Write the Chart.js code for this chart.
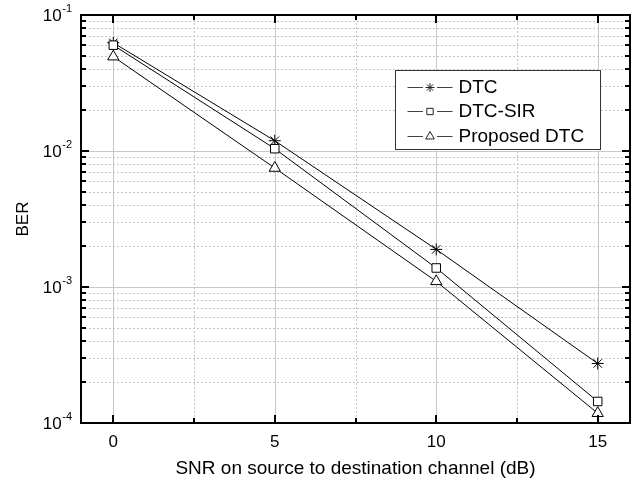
<!DOCTYPE html>
<html>
<head>
<meta charset="utf-8">
<script src="https://cdn.jsdelivr.net/npm/chart.js@4/dist/chart.umd.min.js"></script>
<style>
    html, body { margin: 0; padding: 0; background: #fff; }
    #ber-chart { display: block; }
</style>
</head>
<body>
<canvas id="ber-chart" width="639" height="481"></canvas>
<script>
const snr = [0, 5, 10, 15];
const dtc = [0.0625, 0.0119, 0.00189, 0.000274];
const dtcSir = [0.060, 0.0104, 0.00138, 0.000144];
const proposedDtc = [0.0494, 0.0075, 0.0011, 0.000118];

const seriesLabels = ['DTC', 'DTC-SIR', 'Proposed DTC'];
const xTicks = [0, 5, 10, 15];
const xMinorTicks = [2.5, 7.5, 12.5];
const yDecades = [-4, -3, -2, -1];

const FONT = 'Arial, "Liberation Sans", sans-serif';

function toPoints(values) {
    return values.map(function (v, i) { return { x: snr[i], y: v }; });
}

// grid, frame with inward ticks, superscript y labels, boxed legend
const decorPlugin = {
    id: 'decor',
    beforeDatasetsDraw: function (chart) {
        const c = chart.ctx;
        const a = chart.chartArea;
        const xs = chart.scales.x;
        const ys = chart.scales.y;
        c.save();
        c.lineWidth = 1;
        c.strokeStyle = '#c4c4c4';

        // minor grid (dotted)
        c.setLineDash([2, 2]);
        yDecades.slice(0, -1).forEach(function (e) {
            for (let k = 2; k <= 9; k++) {
                const y = Math.round(ys.getPixelForValue(k * Math.pow(10, e))) + 0.5;
                c.beginPath(); c.moveTo(a.left, y); c.lineTo(a.right, y); c.stroke();
            }
        });
        xMinorTicks.forEach(function (v) {
            const x = Math.round(xs.getPixelForValue(v)) + 0.5;
            c.beginPath(); c.moveTo(x, a.top); c.lineTo(x, a.bottom); c.stroke();
        });

        // major grid (solid)
        c.setLineDash([]);
        c.strokeStyle = '#c8c8c8';
        yDecades.forEach(function (e) {
            const y = Math.round(ys.getPixelForValue(Math.pow(10, e))) + 0.5;
            c.beginPath(); c.moveTo(a.left, y); c.lineTo(a.right, y); c.stroke();
        });
        xTicks.forEach(function (v) {
            const x = Math.round(xs.getPixelForValue(v)) + 0.5;
            c.beginPath(); c.moveTo(x, a.top); c.lineTo(x, a.bottom); c.stroke();
        });
        c.restore();
    },
    afterDatasetsDraw: function (chart) {
        const c = chart.ctx;
        const a = chart.chartArea;
        const xs = chart.scales.x;
        const ys = chart.scales.y;
        c.save();
        c.strokeStyle = '#000';

        // ticks
        c.lineWidth = 2;
        function vTick(x, len) {
            c.beginPath(); c.moveTo(x, a.bottom); c.lineTo(x, a.bottom - len); c.stroke();
            c.beginPath(); c.moveTo(x, a.top); c.lineTo(x, a.top + len); c.stroke();
        }
        function hTick(y, len) {
            c.beginPath(); c.moveTo(a.left, y); c.lineTo(a.left + len, y); c.stroke();
            c.beginPath(); c.moveTo(a.right, y); c.lineTo(a.right - len, y); c.stroke();
        }
        xTicks.forEach(function (v) { vTick(Math.round(xs.getPixelForValue(v)), 8); });
        xMinorTicks.forEach(function (v) { vTick(Math.round(xs.getPixelForValue(v)), 5); });
        yDecades.forEach(function (e) {
            hTick(Math.round(ys.getPixelForValue(Math.pow(10, e))), 8);
            if (e < -1) {
                for (let k = 2; k <= 9; k++) {
                    hTick(Math.round(ys.getPixelForValue(k * Math.pow(10, e))), 5);
                }
            }
        });

        // frame
        c.lineWidth = 2;
        c.strokeRect(a.left, a.top, a.right - a.left, a.bottom - a.top);

        // y labels 10^n
        c.fillStyle = '#000';
        c.textBaseline = 'middle';
        yDecades.forEach(function (e) {
            const y = ys.getPixelForValue(Math.pow(10, e));
            const sup = '-' + Math.abs(e);
            c.font = '11px ' + FONT;
            const w2 = c.measureText(sup).width;
            const supRight = a.left - 9;
            c.textAlign = 'left';
            c.fillText(sup, supRight - w2, y - 6);
            c.font = '17px ' + FONT;
            c.textAlign = 'right';
            c.fillText('10', supRight - w2 - 0.5, y + 1);
        });

        // legend
        const box = { left: a.right - 234.5, top: a.top + 55.5, width: 205, height: 79 };
        c.fillStyle = '#fff';
        c.fillRect(box.left, box.top, box.width, box.height);
        c.lineWidth = 1;
        c.strokeStyle = '#333';
        c.strokeRect(box.left, box.top, box.width, box.height);
        c.font = '19px ' + FONT;
        c.textAlign = 'left';
        c.textBaseline = 'middle';
        chart.data.datasets.forEach(function (ds, i) {
            const y = Math.round(box.top + 16 + i * 24.5) + 0.5;
            const x0 = box.left + 12;
            const x1 = box.left + 57;
            const xm = (x0 + x1) / 2;
            c.strokeStyle = '#444';
            c.lineWidth = 1;
            c.beginPath(); c.moveTo(x0, y); c.lineTo(xm - 7, y); c.stroke();
            c.beginPath(); c.moveTo(xm + 7, y); c.lineTo(x1, y); c.stroke();
            c.fillStyle = '#fff';
            c.strokeStyle = '#222';
            Chart.helpers.drawPoint(c, {
                pointStyle: ds.pointStyle,
                radius: ds.pointRadius - 1.5,
                borderWidth: 1
            }, xm, y);
            c.fillStyle = '#000';
            c.fillText(ds.label, box.left + 63, y + 0.5);
        });
        c.restore();
    }
};

const ctx = document.getElementById('ber-chart').getContext('2d');
new Chart(ctx, {
    type: 'line',
    data: {
        datasets: [{
            label: seriesLabels[0],
            data: toPoints(dtc),
            pointStyle: 'star',
            pointRadius: 6,
            order: 3
        }, {
            label: seriesLabels[1],
            data: toPoints(dtcSir),
            pointStyle: 'rect',
            pointRadius: 6,
            order: 2
        }, {
            label: seriesLabels[2],
            data: toPoints(proposedDtc),
            pointStyle: 'triangle',
            pointRadius: 6.5,
            order: 1
        }].map(function (ds) {
            return Object.assign(ds, {
                borderColor: '#000',
                borderWidth: 1,
                backgroundColor: '#fff',
                pointBackgroundColor: '#fff',
                pointBorderColor: '#000',
                pointBorderWidth: 1,
                tension: 0,
                fill: false
            });
        })
    },
    plugins: [decorPlugin],
    options: {
        responsive: false,
        animation: false,
        events: [],
        layout: { padding: { top: 15, right: 9, left: 0, bottom: 0 } },
        plugins: {
            legend: { display: false },
            tooltip: { enabled: false }
        },
        scales: {
            x: {
                type: 'linear',
                min: -1,
                max: 16,
                afterBuildTicks: function (scale) {
                    scale.ticks = xTicks.map(function (v) { return { value: v }; });
                },
                afterFit: function (scale) { scale.height = 58; },
                grid: { display: false, drawTicks: false },
                border: { display: false },
                ticks: {
                    color: '#000',
                    padding: 9,
                    maxRotation: 0,
                    font: { family: FONT, size: 17 }
                },
                title: {
                    display: true,
                    text: 'SNR on source to destination channel (dB)',
                    color: '#000',
                    padding: { top: 0, bottom: 1 },
                    font: { family: FONT, size: 19 }
                }
            },
            y: {
                type: 'logarithmic',
                min: 1e-4,
                max: 1e-1,
                afterFit: function (scale) { scale.width = 81; },
                grid: { display: false, drawTicks: false },
                border: { display: false },
                ticks: { display: false },
                title: {
                    display: true,
                    text: 'BER',
                    color: '#000',
                    padding: { top: 13, bottom: 0 },
                    font: { family: FONT, size: 17 }
                }
            }
        }
    }
});
</script>
</body>
</html>
